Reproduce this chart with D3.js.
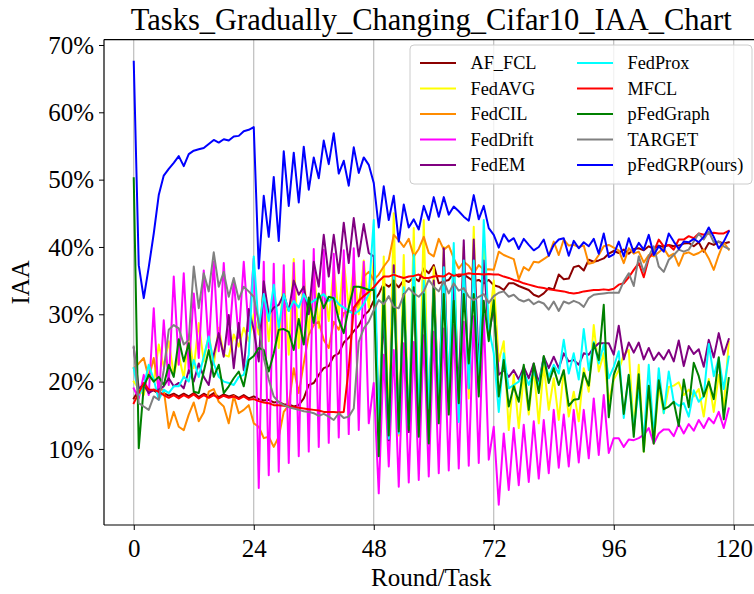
<!DOCTYPE html>
<html>
<head>
<meta charset="utf-8">
<script src="https://cdn.jsdelivr.net/npm/d3@7"></script>
<style>
  html, body { margin: 0; padding: 0; background: #fff; }
  svg { display: block; font-family: "Liberation Serif", "Times New Roman", serif; }
</style>
</head>
<body>
<svg id="chart" width="754" height="594"></svg>
<script>
// Rounds 0..119
const rounds = d3.range(0, 120);
const xTicks = [0, 24, 48, 72, 96, 120];
const yTicks = [10, 20, 30, 40, 50, 60, 70];

const seriesNames = ["AF_FCL", "FedAVG", "FedCIL", "FedDrift", "FedEM", "FedProx", "MFCL", "pFedGraph", "TARGET", "pFedGRP(ours)"];
const seriesColors = ["#8b0000", "#ffff00", "#ff8c00", "#ff00ff", "#800080", "#00ffff", "#ff0000", "#008000", "#808080", "#0000ff"];

// IAA (%) per round
const afFcl = [17.5,18.8,19.5,18.5,18.7,18.2,18.3,17.9,18.2,17.8,18.2,17.8,18.3,17.7,18.2,17.8,18.3,17.7,18.1,17.8,18.0,17.6,18.0,17.5,17.8,
  17.4,17.2,17.3,16.9,17.0,16.6,16.6,16.3,16.5,17.5,19.5,19.8,21.0,22.0,22.3,23.8,24.2,25.8,26.5,27.5,28.3,29.8,30.5,32.0,
  33.0,34.6,34.1,34.8,34.0,35.1,34.8,35.5,34.9,36.8,36.1,37.3,34.6,34.9,35.1,36.1,35.6,35.9,35.4,34.9,35.1,34.6,35.1,34.3,
  34.1,33.6,34.6,34.6,34.2,33.9,33.6,32.9,32.6,33.1,33.9,33.7,35.9,35.2,35.3,37.0,37.2,36.5,38.1,37.8,38.0,38.3,39.0,39.4,
  39.1,39.6,39.0,39.7,39.8,39.5,40.1,39.7,40.2,40.0,40.3,40.1,40.2,40.5,40.6,40.1,40.7,39.3,40.6,40.3,40.8,40.5,40.7];

const fedAvg = [20.0,19.0,18.0,22.0,20.0,25.5,22.2,26.0,21.0,24.0,20.5,27.0,22.0,28.7,23.0,27.0,22.5,28.0,24.0,23.7,27.0,25.2,28.0,26.0,30.0,
  27.0,34.0,26.0,33.0,25.0,36.0,24.0,38.2,25.0,36.0,27.0,37.0,28.0,35.0,29.0,37.0,30.0,38.0,31.0,37.0,30.0,38.0,31.0,38.0,
  12.0,38.6,13.0,45.0,12.0,38.8,13.0,42.8,12.0,44.0,13.0,37.0,15.0,40.0,16.0,39.0,17.0,40.0,17.5,43.0,19.0,40.0,28.0,35.0,
  23.0,26.0,12.8,21.0,13.1,21.0,15.1,22.0,13.8,22.5,15.8,20.5,14.3,21.7,14.8,18.5,14.1,22.0,18.5,28.4,21.5,24.2,17.0,20.3,
  21.7,24.0,24.7,12.8,22.5,9.6,19.0,10.8,19.3,15.3,19.2,19.4,19.9,18.0,18.8,17.8,18.9,14.8,20.4,15.5,21.0,16.2,25.9];

const fedCil = [22.0,22.7,23.5,20.5,23.5,18.8,18.8,13.1,15.5,13.3,12.8,15.1,16.9,14.1,15.4,18.5,18.9,17.0,16.3,13.8,17.9,15.3,15.8,16.5,13.8,
  13.3,11.6,11.8,10.3,11.8,15.5,16.5,22.0,18.3,22.7,26.9,28.4,28.9,26.2,25.0,28.9,27.7,30.2,30.4,30.7,31.6,35.6,36.3,35.1,
  35.9,37.1,38.1,41.8,41.0,40.0,41.2,38.6,39.7,41.5,39.1,38.6,41.2,39.6,40.2,38.3,36.8,37.8,37.2,36.1,37.3,36.6,36.7,36.6,
  39.3,38.8,38.5,38.2,35.2,37.0,36.5,37.8,37.7,38.2,38.7,40.8,38.8,41.1,40.2,40.3,40.0,40.2,37.5,37.7,38.8,40.1,40.3,39.9,
  39.5,37.6,39.8,39.0,39.3,37.7,38.8,38.6,39.2,39.8,38.6,39.0,37.2,39.0,39.2,38.8,39.1,39.6,38.3,36.6,38.8,40.7,39.6];

const fedDrift = [19.0,17.5,21.0,18.0,30.9,17.3,29.1,19.5,35.6,22.5,36.1,21.7,33.1,23.5,36.5,25.0,37.8,24.5,37.6,25.5,35.0,26.5,37.8,27.5,38.3,
  4.2,37.8,6.1,37.5,6.6,37.3,7.9,37.6,8.9,38.0,9.6,39.7,10.3,39.6,10.9,39.0,11.7,39.5,12.2,39.8,12.8,37.8,13.8,19.8,
  3.4,24.0,7.4,24.7,4.4,25.7,5.0,25.9,5.4,26.9,5.9,27.4,6.4,27.9,6.8,28.4,7.1,28.9,7.5,29.7,7.9,29.9,8.4,13.3,
  1.7,12.3,3.9,13.1,4.6,13.6,5.1,14.1,5.6,14.3,6.4,15.8,7.2,15.1,7.4,15.8,8.0,15.8,8.6,17.5,9.1,18.0,9.4,11.6,
  11.6,10.3,11.4,11.3,11.6,12.1,13.1,10.8,12.3,12.9,12.9,11.9,13.7,12.3,13.7,12.7,14.3,13.1,14.6,13.8,15.5,13.1,16.0];

const fedEm = [25.0,19.0,19.5,18.3,18.8,18.8,19.3,20.5,19.3,19.8,19.0,21.7,20.0,22.7,20.7,19.5,24.0,27.2,23.7,29.9,22.0,28.7,21.7,30.8,27.7,
  23.0,34.9,30.0,31.0,31.4,33.0,30.5,35.0,32.9,34.1,30.0,37.8,34.1,41.8,35.6,41.8,36.1,43.6,37.6,44.3,38.6,43.4,39.1,38.6,
  14.0,30.0,11.3,37.3,13.0,33.0,12.5,34.0,13.5,32.0,15.0,35.0,16.0,39.8,17.0,36.0,18.0,41.0,19.0,41.1,22.0,38.0,27.0,31.0,
  21.0,21.7,20.7,21.7,20.3,22.2,20.5,22.7,19.8,23.7,22.0,23.7,22.0,24.2,23.0,23.2,22.5,24.2,24.0,25.0,25.7,25.7,25.7,24.0,
  28.3,23.3,25.8,24.3,25.8,23.3,25.0,23.2,24.3,23.3,24.7,23.0,26.1,22.3,25.3,24.1,24.8,22.2,26.2,23.6,27.2,24.0,26.3];

const fedProx = [22.0,18.0,19.3,22.5,20.3,17.3,18.8,18.3,19.3,19.3,20.7,20.0,23.2,20.7,23.7,26.7,22.7,20.7,20.0,19.8,19.5,20.7,21.0,24.0,38.6,
  28.0,33.0,29.0,34.4,28.0,33.0,30.5,32.0,31.0,33.0,31.5,32.0,32.5,33.0,32.0,32.5,31.5,31.0,30.5,30.0,30.5,31.5,33.0,44.0,
  13.0,33.0,11.5,36.0,12.3,34.0,13.5,38.8,15.0,35.0,16.0,34.0,17.0,37.0,18.0,40.6,14.0,38.0,19.0,38.0,19.0,44.0,28.0,24.2,
  15.5,24.2,19.0,19.5,20.0,21.5,19.5,21.5,19.3,23.5,20.7,22.5,21.2,26.2,21.2,24.2,20.3,27.8,21.7,25.9,22.7,25.5,20.5,22.2,
  24.5,14.6,21.0,12.8,19.0,11.3,22.5,11.8,22.0,15.3,21.5,17.0,16.4,16.8,14.8,18.7,17.0,17.8,25.6,20.8,23.5,18.9,23.7];

const mfcl = [16.8,18.3,19.8,18.8,18.8,18.5,18.0,17.6,18.0,17.5,18.0,17.6,18.1,17.5,18.0,17.6,18.0,17.5,17.9,17.6,17.8,17.4,17.8,17.3,17.4,
  17.1,16.9,16.8,16.5,16.5,16.4,16.3,16.2,16.1,16.0,15.9,15.8,15.7,15.5,15.5,15.5,15.4,15.5,22.0,31.0,32.0,32.7,33.3,34.0,
  34.9,35.6,35.6,35.9,35.6,35.4,35.6,35.7,35.9,35.4,35.4,35.6,35.7,35.6,36.1,35.7,35.9,35.9,36.1,36.0,36.0,35.9,36.0,35.9,
  35.9,35.6,35.4,35.1,34.9,34.6,34.4,34.2,34.0,33.9,33.7,33.6,33.5,33.4,33.2,33.1,33.2,33.4,33.5,33.6,33.6,33.7,33.6,33.8,
  34.4,34.6,35.5,36.6,37.6,35.5,38.3,39.3,41.1,40.1,40.3,39.6,41.1,41.1,41.6,41.3,42.0,41.8,42.0,42.1,42.0,42.0,42.4];

const pFedGraph = [50.2,10.1,19.3,21.0,20.0,20.7,19.5,22.5,20.7,26.3,23.0,25.7,18.5,18.3,21.5,24.7,20.7,22.5,18.3,19.3,20.5,21.5,19.3,23.2,23.8,
  25.0,24.7,21.5,24.2,27.7,27.8,27.4,24.7,29.3,25.5,32.5,28.7,33.1,30.9,32.6,32.4,29.2,27.2,31.0,34.1,34.1,33.9,33.6,33.6,
  8.9,34.0,12.0,35.0,12.6,33.0,12.8,34.0,11.8,33.0,10.8,34.0,13.8,33.0,15.1,32.0,16.8,33.0,22.7,33.0,17.8,32.0,26.0,32.1,
  17.8,23.2,16.3,19.3,17.0,22.5,15.8,22.7,18.3,23.8,19.8,22.0,19.5,21.7,16.4,17.3,17.4,21.3,19.4,25.7,23.2,31.4,14.7,21.0,
  23.0,15.2,21.0,11.8,21.1,9.6,19.4,10.8,20.2,15.9,16.3,17.0,13.4,20.3,16.2,22.8,20.8,17.8,20.0,17.4,23.6,14.4,20.5];

const target = [25.2,16.8,16.3,15.8,17.8,17.3,21.7,27.7,28.4,27.9,25.5,26.2,37.1,30.9,36.1,33.4,39.2,34.1,36.3,32.6,35.4,32.2,34.1,33.4,32.6,
  28.7,23.5,20.3,17.8,16.9,16.5,16.2,16.0,15.8,15.6,15.5,15.3,14.9,15.2,14.8,14.3,15.3,14.6,14.8,16.0,25.9,27.9,28.9,30.6,
  32.1,31.5,32.7,31.1,30.9,32.9,33.9,33.1,32.6,33.4,35.1,34.1,33.4,34.9,33.1,34.6,33.5,33.9,32.6,32.1,32.6,33.0,31.7,32.7,
  33.2,33.4,32.6,32.9,32.2,31.9,32.2,31.5,31.9,31.6,30.7,31.9,30.5,31.9,31.6,32.0,31.7,31.1,32.4,32.9,33.0,33.1,33.2,33.2,
  33.2,34.9,36.1,34.2,38.6,36.3,38.6,40.1,37.1,36.3,38.1,38.8,39.6,39.3,39.6,40.8,42.0,41.1,42.3,40.7,40.8,40.1,39.7];

const pFedGRP = [67.5,37.3,32.4,37.0,42.0,47.7,50.6,51.6,52.5,53.5,52.0,53.8,54.3,54.5,54.7,55.3,55.9,55.5,56.0,55.8,56.4,56.5,57.2,57.4,57.8,
  36.8,47.6,41.5,50.4,40.9,54.2,46.1,54.0,46.6,54.9,48.5,53.3,50.2,55.8,52.3,56.9,50.9,52.8,49.1,54.8,51.0,53.3,52.2,49.5,
  42.9,49.0,44.0,47.6,40.8,46.3,42.9,44.1,42.6,46.1,44.0,47.4,44.5,47.4,44.8,46.0,45.3,44.5,43.9,47.7,44.1,46.1,42.8,41.8,
  39.9,41.9,40.8,41.3,39.7,41.2,40.3,39.5,40.0,41.1,38.7,40.3,41.1,41.3,38.7,40.9,39.8,40.7,40.1,41.2,39.0,42.0,38.5,38.9,
  40.8,38.6,41.3,39.2,40.6,39.6,41.8,38.8,40.1,39.3,42.0,40.8,39.7,40.8,40.7,41.2,40.7,41.5,42.9,41.5,39.8,40.8,42.3];

const seriesValues = [afFcl, fedAvg, fedCil, fedDrift, fedEm, fedProx, mfcl, pFedGraph, target, pFedGRP];

// ---- layout ----
const svg = d3.select("#chart");
const W = 754, H = 594;
const plot = { left: 104, right: 758.5, top: 39.6, bottom: 525 };
const strokeW = 2;

const x = d3.scaleLinear().domain([-5.95, 124.95]).range([plot.left, plot.right]);
const y = d3.scaleLinear().domain([-1.3, 70.8]).range([plot.bottom, plot.top]);

svg.append("rect").attr("width", W).attr("height", H).attr("fill", "#fff");

svg.append("clipPath").attr("id", "plot-clip")
  .append("rect")
  .attr("x", plot.left).attr("y", plot.top)
  .attr("width", plot.right - plot.left).attr("height", plot.bottom - plot.top);

// vertical grid at x ticks
svg.append("g").selectAll("line").data(xTicks).join("line")
  .attr("x1", d => x(d)).attr("x2", d => x(d))
  .attr("y1", plot.top).attr("y2", plot.bottom)
  .attr("stroke", "#b0b0b0").attr("stroke-width", 1);

// series lines
const line = d3.line().x((d, i) => x(rounds[i])).y(d => y(d));
const linesG = svg.append("g").attr("clip-path", "url(#plot-clip)");
seriesValues.forEach((vals, k) => {
  linesG.append("path")
    .datum(vals)
    .attr("d", line)
    .attr("fill", "none")
    .attr("stroke", seriesColors[k])
    .attr("stroke-width", strokeW)
    .attr("stroke-linejoin", "round")
    .attr("stroke-linecap", "square");
});

// axes
const tickFont = 25;
const xAxis = d3.axisBottom(x).tickValues(xTicks).tickSize(5).tickPadding(5).tickFormat(d3.format("d"));
const yAxis = d3.axisLeft(y).tickValues(yTicks).tickSize(5).tickPadding(5).tickFormat(d => d + "%");

const gx = svg.append("g").attr("transform", `translate(0,${plot.bottom})`).call(xAxis);
const gy = svg.append("g").attr("transform", `translate(${plot.left},0)`).call(yAxis);
[gx, gy].forEach(g => {
  g.select(".domain").remove();
  g.selectAll("line").attr("stroke", "#000").attr("stroke-width", 1);
  g.selectAll("text").attr("font-family", "Liberation Serif, serif").attr("font-size", tickFont).attr("fill", "#000");
});
gx.selectAll("text").attr("y", 32).attr("dy", 0);
gy.selectAll("text").attr("dy", "0.33em");

// spines
const spine = (x1, y1, x2, y2) => svg.append("line")
  .attr("x1", x1).attr("y1", y1).attr("x2", x2).attr("y2", y2)
  .attr("stroke", "#000").attr("stroke-width", 1.2);
spine(plot.left, plot.top, plot.left, plot.bottom);
spine(plot.left, plot.bottom, plot.right, plot.bottom);
spine(plot.left, plot.top, plot.right, plot.top);
spine(plot.right, plot.top, plot.right, plot.bottom);

// title and axis labels
svg.append("text").attr("x", (plot.left + plot.right) / 2).attr("y", 30)
  .attr("text-anchor", "middle").attr("font-size", 30.5).attr("fill", "#000")
  .text("Tasks_Gradually_Changing_Cifar10_IAA_Chart");
svg.append("text").attr("x", (plot.left + plot.right) / 2).attr("y", 586)
  .attr("text-anchor", "middle").attr("font-size", tickFont).attr("fill", "#000")
  .text("Round/Task");
svg.append("text").attr("transform", `translate(29,${(plot.top + plot.bottom) / 2}) rotate(-90)`)
  .attr("text-anchor", "middle").attr("font-size", tickFont).attr("fill", "#000")
  .text("IAA");

// legend (two columns)
const leg = svg.append("g");
const legBox = { x: 410, y: 45, w: 342, h: 139 };
leg.append("rect").attr("x", legBox.x).attr("y", legBox.y).attr("width", legBox.w).attr("height", legBox.h)
  .attr("rx", 4).attr("fill", "#fff").attr("fill-opacity", 0.8)
  .attr("stroke", "#cccccc").attr("stroke-width", 1);
const rowH = 25.5, colX = [420, 577], row0 = 63;
seriesNames.forEach((name, i) => {
  const col = Math.floor(i / 5), row = i % 5;
  const cy = row0 + row * rowH;
  leg.append("line").attr("x1", colX[col]).attr("x2", colX[col] + 36).attr("y1", cy).attr("y2", cy)
    .attr("stroke", seriesColors[i]).attr("stroke-width", strokeW);
  leg.append("text").attr("x", colX[col] + 50.5).attr("y", cy + 6)
    .attr("font-size", 18.3).attr("fill", "#000").text(name);
});
</script>
</body>
</html>
